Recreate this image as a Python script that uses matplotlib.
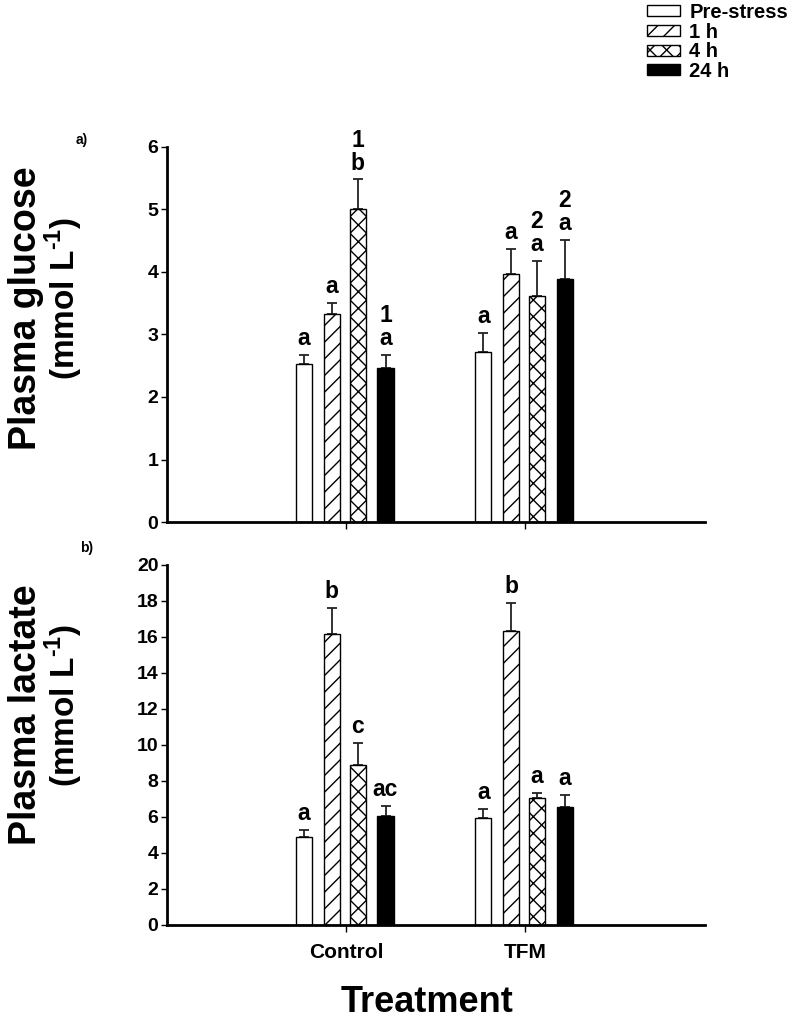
import numpy as np
import matplotlib
matplotlib.use("Agg")
import matplotlib.pyplot as plt

plt.rcParams['font.family'] = ['Liberation Sans', 'DejaVu Sans']
plt.rcParams['font.weight'] = 'bold'
plt.rcParams['hatch.linewidth'] = 1.0
plt.rcParams['mathtext.fontset'] = 'custom'
plt.rcParams['mathtext.rm'] = 'Liberation Sans:bold'
plt.rcParams['mathtext.bf'] = 'Liberation Sans:bold'

# data
treatments = ["Control", "TFM"]
times = ["Pre-stress", "1 h", "4 h", "24 h"]

glucose_mean = {"Pre-stress": [2.52, 2.72], "1 h": [3.33, 3.97],
                "4 h": [5.00, 3.62], "24 h": [2.46, 3.88]}
glucose_err = {"Pre-stress": [0.15, 0.30], "1 h": [0.17, 0.40],
               "4 h": [0.48, 0.55], "24 h": [0.21, 0.63]}
glucose_lbl = {"Pre-stress": ["a", "a"], "1 h": ["a", "a"],
               "4 h": ["1\nb", "2\na"], "24 h": ["1\na", "2\na"]}

lactate_mean = {"Pre-stress": [4.87, 5.93], "1 h": [16.17, 16.35],
                "4 h": [8.87, 7.04], "24 h": [6.07, 6.54]}
lactate_err = {"Pre-stress": [0.39, 0.50], "1 h": [1.43, 1.52],
               "4 h": [1.26, 0.31], "24 h": [0.56, 0.68]}
lactate_lbl = {"Pre-stress": ["a", "a"], "1 h": ["b", "b"],
               "4 h": ["c", "a"], "24 h": ["ac", "a"]}

# styles
fills = {"Pre-stress": "white", "1 h": "white", "4 h": "white", "24 h": "black"}
hatches = {"Pre-stress": "", "1 h": "//", "4 h": "xx", "24 h": ""}
offsets = [-0.235, -0.08, 0.065, 0.22]
width = 0.09

fig = plt.figure(figsize=(7.98, 10.25), dpi=100)
ax1 = fig.add_axes([0.209, 0.4907, 0.674, 0.366])
ax2 = fig.add_axes([0.209, 0.0976, 0.674, 0.3512])

x = np.array([1, 2])


def draw(ax, means, errs, lbls, ymax, ystep):
    handles = []
    for i, t in enumerate(times):
        m = np.array(means[t])
        e = np.array(errs[t])
        b = ax.bar(x + offsets[i], m, width, color=fills[t], edgecolor="black",
                   hatch=hatches[t], linewidth=1.0, label=t, zorder=2)
        ax.errorbar(x + offsets[i], m, yerr=[np.zeros(2), e], fmt="none",
                    ecolor="#222222", elinewidth=1.3, capsize=3.5, capthick=1.3, zorder=1)
        for j in range(2):
            ax.annotate(lbls[t][j], (x[j] + offsets[i], m[j] + e[j]),
                        xytext=(0, 3.5), textcoords="offset points",
                        ha="center", va="bottom", fontsize=16.5, fontweight="bold",
                        linespacing=1.0)
        handles.append(b)
    ax.set_xlim(0, 3)
    ax.set_ylim(0, ymax)
    ax.set_yticks(np.arange(0, ymax + 0.1, ystep))
    ax.spines["top"].set_visible(False)
    ax.spines["right"].set_visible(False)
    ax.spines["left"].set_linewidth(2)
    ax.spines["bottom"].set_linewidth(2)
    ax.tick_params(axis="y", labelsize=14, width=1, length=4, pad=2)
    ax.tick_params(axis="x", width=1, length=5)
    ax.set_xticks(x)
    for lab in ax.get_yticklabels():
        lab.set_fontweight("bold")
    return handles


handles = draw(ax1, glucose_mean, glucose_err, glucose_lbl, 6, 1)
ax1.set_xticklabels([])
draw(ax2, lactate_mean, lactate_err, lactate_lbl, 20, 2)
ax2.set_xticklabels(treatments, fontsize=15, fontweight="bold")
ax2.tick_params(axis="x", pad=8)

# y labels
unit = "(mmol L$^{\\text{-1}}$)"
fig.text(0.032, 1 - 308 / 1025, "Plasma glucose", rotation=90, ha="center", va="center",
         fontsize=27, fontweight="bold")
fig.text(0.080, 1 - 298 / 1025, unit, rotation=90, ha="center", va="center",
         fontsize=24, fontweight="bold")
fig.text(0.032, 1 - 715 / 1025, "Plasma lactate", rotation=90, ha="center", va="center",
         fontsize=27, fontweight="bold")
fig.text(0.080, 1 - 705 / 1025, unit, rotation=90, ha="center", va="center",
         fontsize=24, fontweight="bold")

fig.text(0.103, 1 - 140 / 1025, "a)", ha="center", va="center", fontsize=10, fontweight="bold")
fig.text(0.109, 1 - 548 / 1025, "b)", ha="center", va="center", fontsize=10, fontweight="bold")

fig.text(0.535, 1 - 1003 / 1025, "Treatment", ha="center", va="center",
         fontsize=26, fontweight="bold")

fig.legend(handles, times, loc="upper left", bbox_to_anchor=(0.811, 0.997),
           frameon=False, fontsize=14.5, handlelength=1.65, handleheight=0.45,
           labelspacing=0.03, handletextpad=0.45, borderaxespad=0.0, borderpad=0.0)

fig.savefig("out.png", dpi=100)
